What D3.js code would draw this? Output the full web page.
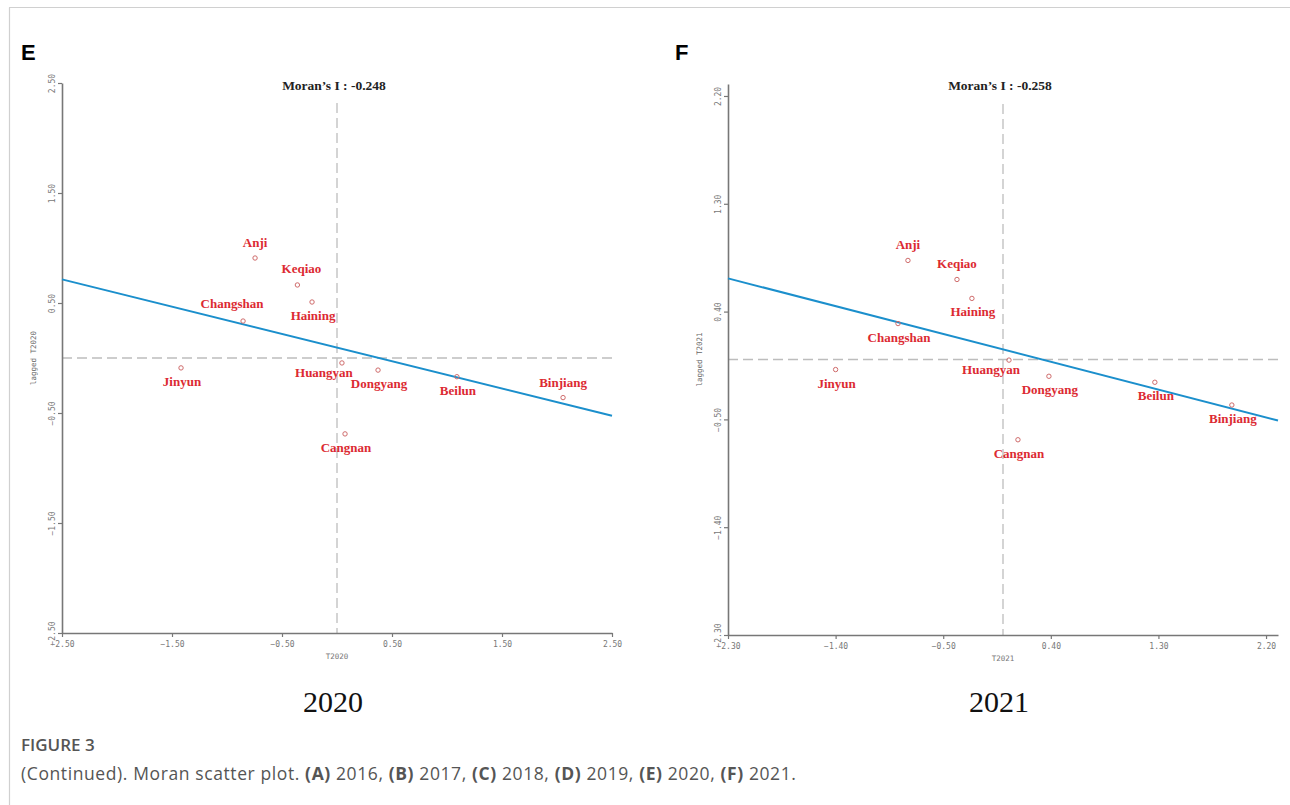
<!DOCTYPE html>
<html>
<head>
<meta charset="utf-8">
<script src="https://cdn.jsdelivr.net/npm/d3@7"></script>
<style>
  body { margin: 0; background: #fff; }
  svg { display: block; }
</style>
</head>
<body>
<svg id="chart" width="1290" height="805"></svg>
<script>
const districts = ["Anji", "Keqiao", "Haining", "Changshan", "Jinyun", "Huangyan", "Dongyang", "Cangnan", "Beilun", "Binjiang"];

// standardized value and its spatial lag
const z2020 = [-0.745, -0.36, -0.227, -0.854, -1.418, 0.045, 0.373, 0.073, 1.09, 2.055];
const lag2020 = [0.909, 0.664, 0.509, 0.336, -0.09, -0.045, -0.11, -0.69, -0.17, -0.36];
const z2021 = [-0.795, -0.385, -0.26, -0.878, -1.40, 0.05, 0.384, 0.125, 1.27, 1.914];
const lag2021 = [0.827, 0.668, 0.51, 0.30, -0.084, -0.005, -0.14, -0.67, -0.19, -0.38];

const moranI = [-0.248, -0.258];
const fitIntercept = [0.095, 0.084];
const ticks2020 = [-2.5, -1.5, -0.5, 0.5, 1.5, 2.5];
const ticks2021 = [-2.3, -1.4, -0.5, 0.4, 1.3, 2.2];
const years = ["2020", "2021"];
const panelLetters = ["E", "F"];

// where each name sits relative to its point
const labelSide2020 = ["above", "aboveRight", "below", "aboveLeft", "below", "belowLeft", "below", "below", "below", "above"];
const labelSide2021 = ["above", "above", "below", "below", "below", "belowLeft", "below", "below", "below", "below"];

const labelOffsets = {
  above: [0, -11],
  aboveRight: [4, -12],
  aboveLeft: [-11, -13],
  below: [1, 18],
  belowLeft: [-18, 14]
};

const svg = d3.select("#chart");

// page frame
svg.append("line").attr("x1", 9).attr("x2", 1290).attr("y1", 7.5).attr("y2", 7.5)
  .attr("stroke", "#d0d0d0").attr("stroke-width", 1.2);
svg.append("line").attr("x1", 9.5).attr("x2", 9.5).attr("y1", 7.5).attr("y2", 805)
  .attr("stroke", "#d0d0d0").attr("stroke-width", 1.2);

const panels = [
  { xs: z2020, ys: lag2020, side: labelSide2020, ticks: ticks2020, lim: 2.5,
    left: 62, right: 612, top: 83, bottom: 633, letterX: 21 },
  { xs: z2021, ys: lag2021, side: labelSide2021, ticks: ticks2021, lim: 2.3,
    left: 728, right: 1278, top: 84, bottom: 635, letterX: 675 }
];

panels.forEach((p, i) => drawPanel(p, i));

function drawPanel(p, i) {
  const g = svg.append("g");
  const x = d3.scaleLinear().domain([-p.lim, p.lim]).range([p.left, p.right]);
  const y = d3.scaleLinear().domain([-p.lim, p.lim]).range([p.bottom, p.top]);
  const fmt = d3.format(".2f");

  g.append("text")
    .attr("x", p.letterX).attr("y", 60)
    .attr("font-family", "Liberation Sans, Arial, sans-serif")
    .attr("font-weight", "bold").attr("font-size", 22)
    .text(panelLetters[i]);

  // quadrant dividers
  g.append("line")
    .attr("x1", x(-p.lim)).attr("x2", x(p.lim))
    .attr("y1", y(0)).attr("y2", y(0))
    .attr("stroke", "#bdbdbd").attr("stroke-width", 1.3)
    .attr("stroke-dasharray", "10,5");
  g.append("line")
    .attr("x1", x(0)).attr("x2", x(0))
    .attr("y1", p.top + 20).attr("y2", y(-p.lim))
    .attr("stroke", "#bdbdbd").attr("stroke-width", 1.3)
    .attr("stroke-dasharray", "10,5");

  // axes
  const xAxis = g.append("g")
    .attr("transform", `translate(0,${p.bottom})`)
    .call(d3.axisBottom(x).tickValues(p.ticks).tickFormat(fmt).tickSize(4).tickSizeOuter(0).tickPadding(4));
  const yAxis = g.append("g")
    .attr("transform", `translate(${p.left},0)`)
    .call(d3.axisLeft(y).tickValues(p.ticks).tickFormat(fmt).tickSize(4).tickSizeOuter(0));

  [xAxis, yAxis].forEach(a => {
    a.select(".domain").attr("stroke", "#777").attr("stroke-width", 1.6);
    a.selectAll(".tick line").attr("stroke", "#777").attr("stroke-width", 1.2);
    a.selectAll(".tick text")
      .attr("fill", "#777")
      .attr("font-family", "DejaVu Sans Mono, monospace")
      .attr("font-size", 8);
  });
  yAxis.selectAll(".tick text")
    .attr("transform", "rotate(-90)")
    .attr("x", 0).attr("y", -7).attr("dy", 0)
    .attr("text-anchor", "middle");

  g.append("text")
    .attr("x", x(0)).attr("y", p.bottom + 26)
    .attr("text-anchor", "middle")
    .attr("fill", "#777")
    .attr("font-family", "DejaVu Sans Mono, monospace")
    .attr("font-size", 7.5)
    .text("T" + years[i]);
  g.append("text")
    .attr("transform", `translate(${p.left - 26},${y(0)}) rotate(-90)`)
    .attr("text-anchor", "middle")
    .attr("fill", "#666")
    .attr("font-family", "DejaVu Sans Mono, monospace")
    .attr("font-size", 7.5)
    .text("lagged T" + years[i]);

  // fitted line, slope equals Moran's I
  const fit = v => fitIntercept[i] + moranI[i] * v;
  g.append("line")
    .attr("x1", x(-p.lim)).attr("y1", y(fit(-p.lim)))
    .attr("x2", x(p.lim)).attr("y2", y(fit(p.lim)))
    .attr("stroke", "#1b8fcc").attr("stroke-width", 2);

  // points and names
  const pts = d3.range(districts.length);
  g.selectAll("circle.pt").data(pts).join("circle")
    .attr("class", "pt")
    .attr("cx", d => x(p.xs[d])).attr("cy", d => y(p.ys[d]))
    .attr("r", 2.2)
    .attr("fill", "none").attr("stroke", "#cf6b6b").attr("stroke-width", 1);
  g.selectAll("text.name").data(pts).join("text")
    .attr("class", "name")
    .attr("x", d => x(p.xs[d]) + labelOffsets[p.side[d]][0])
    .attr("y", d => y(p.ys[d]) + labelOffsets[p.side[d]][1])
    .attr("text-anchor", "middle")
    .attr("fill", "#dc2a32")
    .attr("font-family", "Liberation Serif, Times New Roman, serif")
    .attr("font-weight", "bold").attr("font-size", 13)
    .text(d => districts[d]);

  g.append("text")
    .attr("x", x(0) - 3).attr("y", 90)
    .attr("text-anchor", "middle")
    .attr("fill", "#222")
    .attr("font-family", "Liberation Serif, Times New Roman, serif")
    .attr("font-weight", "bold").attr("font-size", 13.5)
    .text("Moran\u2019s I : " + moranI[i].toFixed(3));

  g.append("text")
    .attr("x", x(0) - 4).attr("y", 712)
    .attr("text-anchor", "middle")
    .attr("fill", "#111")
    .attr("font-family", "Liberation Serif, Times New Roman, serif")
    .attr("font-size", 30)
    .text(years[i]);
}

// caption
svg.append("text")
  .attr("x", 21).attr("y", 751)
  .attr("fill", "#555")
  .attr("font-family", "Open Sans, sans-serif")
  .attr("font-weight", 600)
  .attr("font-size", 17)
  .text("FIGURE 3");

const cap = svg.append("text")
  .attr("x", 21).attr("y", 780)
  .attr("fill", "#555")
  .attr("font-family", "Open Sans, sans-serif")
  .attr("font-size", 17.5)
  .attr("letter-spacing", 0.6);
const capParts = [["(Continued). Moran scatter plot. ", false], ["(A)", true], [" 2016, ", false], ["(B)", true], [" 2017, ", false],
  ["(C)", true], [" 2018, ", false], ["(D)", true], [" 2019, ", false], ["(E)", true], [" 2020, ", false], ["(F)", true], [" 2021.", false]];
capParts.forEach(([t, b]) => cap.append("tspan").attr("font-weight", b ? "bold" : "normal").text(t));
</script>
</body>
</html>
